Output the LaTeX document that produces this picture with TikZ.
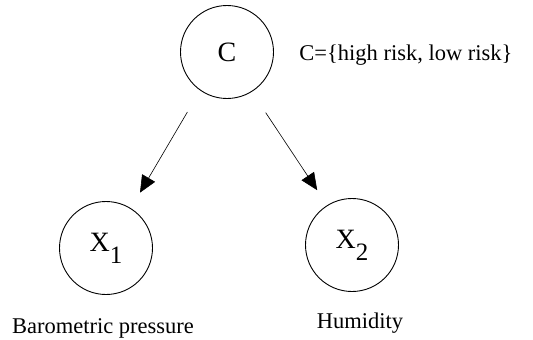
\documentclass[tikz,border=0pt]{standalone}
\usepackage{fontspec}
\setmainfont{Liberation Serif}
\usetikzlibrary{arrows.meta, positioning}
\tikzset{
  var/.style   = {draw, circle, minimum size=93pt, inner sep=0pt,
                  line width=0.9pt, font=\fontsize{28}{28}\selectfont},
  lbl/.style   = {font=\fontsize{22.5}{22.5}\selectfont, inner sep=0pt},
  arr/.style   = {-{Triangle[length=17pt, width=15pt]}, line width=0.6pt},
}
\newcommand{\subidx}[1]{\raisebox{-0.42em}{\fontsize{25}{25}\selectfont #1}}

\begin{document}
\begin{tikzpicture}[x=1pt, y=-1pt]
\useasboundingbox (0,0) rectangle (533,340);

%% ── class node ───────────────────────────────────────────────────────────────
\node[var] (cls) at (227,52) {C};
\node[lbl] (clsVals) at (406,55) {C=\{high risk, low risk\}};

%% ── attribute nodes ─────────────────────────────────────────────────────────
\node[var] (x1) at (106,248) {X\subidx{1}};
\node[var] (x2) at (352,245) {X\subidx{2}};

\node[lbl] (x1Name) at (103,328) {Barometric pressure};
\node[lbl] (x2Name) at (360,323) {Humidity};

%% ── arrows ───────────────────────────────────────────────────────────────────
\draw[arr, shorten <=25pt, shorten >=18pt] (cls.235) -- (x1.58);
\draw[arr, shorten <=25pt, shorten >=18pt] (cls.302) -- (x2.122);

\end{tikzpicture}
\end{document}
